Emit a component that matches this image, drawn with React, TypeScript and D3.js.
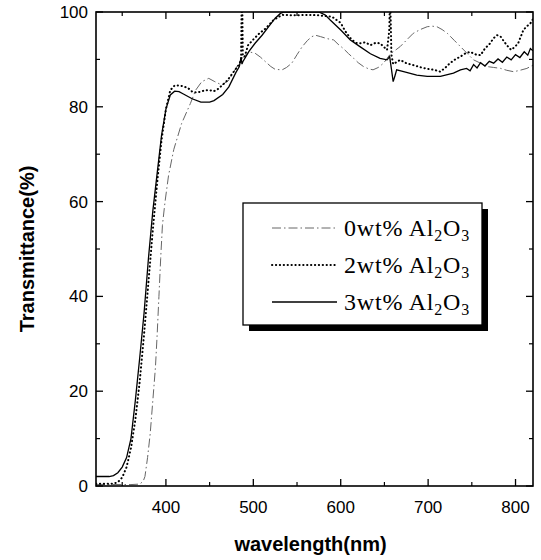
import React from "react";
import * as d3 from "d3";

const s0Wave = [320,360,370,374,376,379,382,385,388,390,392,394,396,399,403,409,418,428,434,441,449,456,464,472,479,487,495,502,508,514,520,525,533,538,544,550,556,562,567,571,577,584,592,597,603,609,615,620,626,632,637,643,649,653,657,663,668,676,683,691,699,705,710,716,722,730,737,745,752,760,767,775,783,790,798,805,813,820];
const s0Trans = [0.3,0.3,0.4,1,2,6,11,18,25,32,40,48,55,60,65.5,71,76.5,80.7,83.5,85.3,86,85.3,84.6,85.6,87.8,90.2,91.6,91.3,90.5,89.5,88.5,87.9,87.8,88.3,89.2,91,92.7,94,94.8,95.1,94.8,94.4,94.1,93.2,92.3,91.2,90.2,89.3,88.5,88,87.8,88.3,89.2,90.2,91.2,92,92.7,94.2,95.5,96.3,96.9,97,96.9,96.3,95.5,94,92.7,91.2,89.9,89.2,88.5,88.3,88.1,87.7,87.4,87.7,88.1,88.8];

const s2Wave = [320,340,345,350,355,360,365,370,375,380,385,390,395,400,405,410,415,420,425,430,435,440,445,450,455,460,470,478,484,486,486.5,487.5,488,490,494,500,507,514,523,533,548,563,575,590,600,605,611,617,622,628,634,640,645,650,653,655.5,656,657,658,660,668,675,683,690,699,707,714,720,725,731,737,742,748,755,760,765,771,775,779,783,786,790,795,799,803,806,809,813,817,820];
const s2Trans = [0.5,0.5,0.8,1.8,4,8,14,22,32,43,54,64,73,79.5,83.5,84.5,84.5,84.3,84,83.2,83,83.2,83.5,83.5,83.3,83.8,85.5,87.5,89,90,100,100,91,90.5,93,94.2,95.5,96.5,98.3,99.4,99.3,99.4,99.3,99,97.7,96,94.5,93.5,93.4,93.6,93,93.5,93.4,92.5,92,96,100,100,91,89,89.9,89.2,88.8,88.4,88,87.8,87.4,88.3,89.2,90,90.6,91.2,91.6,91,90.9,92.3,93.4,94.5,95.1,94.8,94,93,92,92.6,93.4,94.8,96.2,97,97.6,98.5];

const s3Wave = [320,335,340,345,350,355,360,365,370,375,380,385,390,395,400,405,410,415,420,430,440,450,455,465,472,480,484,486,487,488,495,502,510,518,525,531,535,575,582,588,600,611,622,634,645,653,656,658,660,662,664,672,687,699,714,729,737,744,748,752,756,760,765,770,775,780,785,790,795,800,805,810,814,817,820];
const s3Trans = [2,2,2.2,2.8,4,6,10,18,27,36.5,48,58,66,74,79.5,82.5,83.3,83.2,82.7,81.7,81,81,81.3,82.6,84.2,87.2,88.5,90.5,89,89.5,91.7,93.4,95.1,97,98.7,99.7,100,100,99.4,98.3,96.2,94.1,92.7,91.2,90.2,89.9,90.6,88,85.3,86.5,87.8,87.4,86.7,86.4,86.4,87.1,87.8,88.1,87.6,88.9,88.2,89.3,88.6,89.6,89.2,90.1,89.4,90.5,89.9,91,90.4,91.6,90.9,92.3,91.8];

const seriesNames = ["0wt% Al", "2wt% Al", "3wt% Al"];
const xTicks = [400, 500, 600, 700, 800];
const xMinor = [350, 450, 550, 650, 750];
const yTicks = [0, 20, 40, 60, 80, 100];
const yMinor = [10, 30, 50, 70, 90];

const W = 541, H = 560;
const L = 96, R = 533, T = 12, B = 486;

export default function App() {
  const x = d3.scaleLinear().domain([320, 820]).range([L, R]);
  const y = d3.scaleLinear().domain([0, 100]).range([B, T]);
  const line = d3.line<[number, number]>().x(d => x(d[0])).y(d => y(d[1]));
  const mk = (w: number[], t: number[]) => w.map((v, i) => [v, t[i]] as [number, number]);
  const series = [
    { d: mk(s0Wave, s0Trans), stroke: "#666", dash: "9 3 1.5 3", sw: 1, cap: "butt" },
    { d: mk(s2Wave, s2Trans), stroke: "#000", dash: "0.3 3.6", sw: 2, cap: "round" },
    { d: mk(s3Wave, s3Trans), stroke: "#000", dash: "", sw: 1.3, cap: "butt" },
  ];
  const maj = 7, mnr = 4;
  const legendY = [228, 265, 302];
  return (
    <svg width={W} height={H} style={{ position: "absolute", left: 0, top: 0, background: "#fff" }}>
      <defs>
        <clipPath id="plot"><rect x={L} y={T} width={R - L} height={B - T} /></clipPath>
      </defs>
      <g clipPath="url(#plot)">
        {series.map((s, i) => (
          <path key={i} d={line(s.d) || ""} fill="none" stroke={s.stroke} strokeWidth={s.sw}
            strokeDasharray={s.dash || undefined} strokeLinecap={s.cap as any} />
        ))}
      </g>
      <rect x={L} y={T} width={R - L} height={B - T} fill="none" stroke="#000" strokeWidth={1.6} />
      {xTicks.map(v => (
        <g key={"xt" + v}>
          <line x1={x(v)} x2={x(v)} y1={B} y2={B - maj} stroke="#000" strokeWidth={1.3} />
          <line x1={x(v)} x2={x(v)} y1={T} y2={T + maj} stroke="#000" strokeWidth={1.3} />
          <text x={x(v)} y={B + 27} textAnchor="middle" fontFamily="Liberation Sans, Arial, sans-serif" fontSize={17}>{v}</text>
        </g>
      ))}
      {xMinor.map(v => (
        <g key={"xm" + v}>
          <line x1={x(v)} x2={x(v)} y1={B} y2={B - mnr} stroke="#000" strokeWidth={1.2} />
          <line x1={x(v)} x2={x(v)} y1={T} y2={T + mnr} stroke="#000" strokeWidth={1.2} />
        </g>
      ))}
      {yTicks.map(v => (
        <g key={"yt" + v}>
          <line x1={L} x2={L + maj} y1={y(v)} y2={y(v)} stroke="#000" strokeWidth={1.3} />
          <line x1={R} x2={R - maj} y1={y(v)} y2={y(v)} stroke="#000" strokeWidth={1.3} />
          <text x={L - 8} y={y(v) + 6} textAnchor="end" fontFamily="Liberation Sans, Arial, sans-serif" fontSize={17}>{v}</text>
        </g>
      ))}
      {yMinor.map(v => (
        <g key={"ym" + v}>
          <line x1={L} x2={L + mnr} y1={y(v)} y2={y(v)} stroke="#000" strokeWidth={1.2} />
          <line x1={R} x2={R - mnr} y1={y(v)} y2={y(v)} stroke="#000" strokeWidth={1.2} />
        </g>
      ))}
      <text x={(L + R) / 2 - 4} y={551} textAnchor="middle" fontFamily="Liberation Sans, Arial, sans-serif" fontWeight="bold" fontSize={20}>wavelength(nm)</text>
      <text transform={`translate(34, ${(T + B) / 2}) rotate(-90)`} textAnchor="middle" fontFamily="Liberation Sans, Arial, sans-serif" fontWeight="bold" fontSize={20}>Transmittance(%)</text>
      <g>
        <rect x={249} y={209} width={239} height={122} fill="#000" />
        <rect x={243} y={203} width={239} height={122} fill="#fff" stroke="#000" strokeWidth={1.3} />
        {series.map((s, i) => (
          <g key={"lg" + i}>
            <line x1={272} x2={337} y1={legendY[i]} y2={legendY[i]} stroke={s.stroke} strokeWidth={s.sw}
              strokeDasharray={s.dash || undefined} strokeLinecap={s.cap as any} />
            <text x={344} y={legendY[i] + 8} fontFamily="Liberation Serif, Times New Roman, serif" fontSize={24} letterSpacing={0.8}>
              {seriesNames[i]}
              <tspan fontSize={16} dy={5}>2</tspan>
              <tspan dy={-5}>O</tspan>
              <tspan fontSize={16} dy={5}>3</tspan>
            </text>
          </g>
        ))}
      </g>
    </svg>
  );
}
